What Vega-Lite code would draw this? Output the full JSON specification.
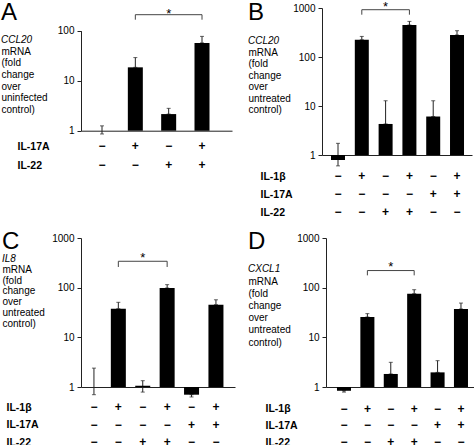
{
 "$schema": "https://vega.github.io/schema/vega-lite/v6.json",
 "padding": {"left": 1, "top": 0, "right": 0, "bottom": 0},
 "columns": 2,
 "spacing": {"row": 11, "column": 13},
 "align": "none",
 "config": {
  "font": "Liberation Sans",
  "view": {"stroke": null},
  "axis": {"grid": false, "domainColor": "#222", "tickColor": "#222", "labelColor": "black", "titleColor": "black"},
  "axisY": {"tickSize": 4, "labelFontSize": 10, "labelPadding": 3, "titleAngle": 0, "titleAlign": "left", "titleBaseline": "top", "titleFontSize": 10, "titleFontWeight": "normal"},
  "axisX": {"ticks": false, "tickSize": 0, "labelAngle": 0, "labelFontSize": 12, "labelFontWeight": "bold", "labelOverlap": false, "titleAlign": "left", "titleBaseline": "top", "titleFontSize": 10.5, "titleFontWeight": "bold", "titleAngle": 0},
  "title": {"anchor": "start", "fontSize": 24, "fontWeight": "normal", "color": "black", "subtitleFontSize": 10, "subtitleFontStyle": "italic", "subtitleColor": "black"}
 },
 "datasets": {
  "A": [
   {"t": "−|−", "v": 1, "lo": 0.86, "hi": 1.25},
   {"t": "+|−", "v": 18.5, "lo": 18.5, "hi": 29},
   {"t": "−|+", "v": 2.15, "lo": 2.15, "hi": 2.8},
   {"t": "+|+", "v": 57, "lo": 57, "hi": 77}
  ],
  "A_h": [{"t": "+|−", "t2": "+|+", "y": 209}],
  "A_v": [{"t": "+|−", "y": 209, "y2": 166}, {"t": "+|+", "y": 209, "y2": 166}],
  "A_s": [{"t": "−|+", "y": 182}],
  "B": [
   {"t": "−|−|−", "v": 0.79, "lo": 0.6, "hi": 1.73},
   {"t": "+|−|−", "v": 225, "lo": 225, "hi": 263},
   {"t": "−|−|+", "v": 4.3, "lo": 4.3, "hi": 12.8},
   {"t": "+|−|+", "v": 450, "lo": 450, "hi": 533},
   {"t": "−|+|−", "v": 6.1, "lo": 6.1, "hi": 12.8},
   {"t": "+|+|−", "v": 281, "lo": 281, "hi": 344}
  ],
  "B_h": [{"t": "+|−|−", "t2": "+|−|+", "y": 923}],
  "B_v": [{"t": "+|−|−", "y": 923, "y2": 730}, {"t": "+|−|+", "y": 923, "y2": 730}],
  "B_s": [{"t": "−|−|+", "y": 881}],
  "C": [
   {"t": "−|−|−", "v": 1, "lo": 0.7, "hi": 2.4},
   {"t": "+|−|−", "v": 37.8, "lo": 37.8, "hi": 50.7},
   {"t": "−|−|+", "v": 1.06, "lo": 0.79, "hi": 1.34},
   {"t": "+|−|+", "v": 98.5, "lo": 98.5, "hi": 115},
   {"t": "−|+|−", "v": 0.7, "lo": 0.63, "hi": 0.7},
   {"t": "+|+|−", "v": 45.5, "lo": 45.5, "hi": 57}
  ],
  "C_h": [{"t": "+|−|−", "t2": "+|−|+", "y": 340}],
  "C_v": [{"t": "+|−|−", "y": 340, "y2": 261}, {"t": "+|−|+", "y": 340, "y2": 261}],
  "C_s": [{"t": "−|−|+", "y": 327}],
  "D": [
   {"t": "−|−|−", "v": 0.84, "lo": 0.79, "hi": 0.84},
   {"t": "+|−|−", "v": 25.7, "lo": 25.7, "hi": 30},
   {"t": "−|−|+", "v": 1.83, "lo": 1.83, "hi": 3.14},
   {"t": "+|−|+", "v": 75.7, "lo": 75.7, "hi": 91},
   {"t": "−|+|−", "v": 1.97, "lo": 1.97, "hi": 3.39},
   {"t": "+|+|−", "v": 37.2, "lo": 37.2, "hi": 49}
  ],
  "D_h": [{"t": "+|−|−", "t2": "+|−|+", "y": 221}],
  "D_v": [{"t": "+|−|−", "y": 221, "y2": 177}, {"t": "+|−|+", "y": 221, "y2": 177}],
  "D_s": [{"t": "−|−|+", "y": 216}]
 },
 "concat": [
  {
   "width": 151, "height": 122.7,
   "title": {"text": "A", "subtitle": "CCL20", "subtitlePadding": 9.9, "offset": -36.9},
   "layer": [
    {"data": {"name": "A"}, "mark": {"type": "rule", "color": "#222"},
     "encoding": {"x": {"field": "t", "type": "nominal", "scale": {"type": "band", "domain": ["−|−", "+|−", "−|+", "+|+"], "paddingInner": 0.55, "paddingOuter": 0.54, "align": 0.375}},
      "y": {"field": "lo", "type": "quantitative", "scale": {"type": "log", "domain": [1, 100], "range": [122.7, 22.7], "nice": false}}, "y2": {"field": "hi"}}},
    {"data": {"name": "A"}, "mark": {"type": "tick", "color": "#222", "size": 4, "thickness": 1},
     "encoding": {"x": {"field": "t", "type": "nominal", "scale": {"type": "band", "domain": ["−|−", "+|−", "−|+", "+|+"], "paddingInner": 0.55, "paddingOuter": 0.54, "align": 0.375}},
      "y": {"field": "hi", "type": "quantitative", "scale": {"type": "log", "domain": [1, 100], "range": [122.7, 22.7], "nice": false}}}},
    {"data": {"name": "A"}, "mark": {"type": "tick", "color": "#222", "size": 4, "thickness": 1},
     "encoding": {"x": {"field": "t", "type": "nominal", "scale": {"type": "band", "domain": ["−|−", "+|−", "−|+", "+|+"], "paddingInner": 0.55, "paddingOuter": 0.54, "align": 0.375}},
      "y": {"field": "lo", "type": "quantitative", "scale": {"type": "log", "domain": [1, 100], "range": [122.7, 22.7], "nice": false}}}},
    {"data": {"name": "A"}, "mark": {"type": "bar", "color": "black"},
     "encoding": {"x": {"field": "t", "type": "nominal", "scale": {"type": "band", "domain": ["−|−", "+|−", "−|+", "+|+"], "paddingInner": 0.55, "paddingOuter": 0.54, "align": 0.375},
       "axis": {"title": ["IL-17A", "IL-22"], "titleX": -64, "titleY": 10.7, "titleLineHeight": 19, "labelPadding": 10, "labelLineHeight": 19, "labelExpr": "split(datum.value, '|')"}},
      "y": {"field": "v", "type": "quantitative", "scale": {"type": "log", "domain": [1, 100], "range": [122.7, 22.7], "nice": false},
       "axis": {"values": [1, 10, 100], "format": "d", "title": ["mRNA", "(fold", "change", "over", "uninfected", "control)"], "titleX": -80, "titleY": 38.3, "titleLineHeight": 11.67}},
      "y2": {"datum": 1}}},
    {"data": {"name": "A_h"}, "mark": {"type": "rule", "color": "#444"},
     "encoding": {"x": {"field": "t", "type": "nominal", "scale": {"type": "band", "domain": ["−|−", "+|−", "−|+", "+|+"], "paddingInner": 0.55, "paddingOuter": 0.54, "align": 0.375}}, "x2": {"field": "t2"},
      "y": {"field": "y", "type": "quantitative", "scale": {"type": "log", "domain": [1, 100], "range": [122.7, 22.7], "nice": false}}}},
    {"data": {"name": "A_v"}, "mark": {"type": "rule", "color": "#444"},
     "encoding": {"x": {"field": "t", "type": "nominal", "scale": {"type": "band", "domain": ["−|−", "+|−", "−|+", "+|+"], "paddingInner": 0.55, "paddingOuter": 0.54, "align": 0.375}},
      "y": {"field": "y", "type": "quantitative", "scale": {"type": "log", "domain": [1, 100], "range": [122.7, 22.7], "nice": false}}, "y2": {"field": "y2"}}},
    {"data": {"name": "A_s"}, "mark": {"type": "text", "text": "*", "fontSize": 13, "baseline": "alphabetic", "color": "black"},
     "encoding": {"x": {"field": "t", "type": "nominal", "scale": {"type": "band", "domain": ["−|−", "+|−", "−|+", "+|+"], "paddingInner": 0.55, "paddingOuter": 0.54, "align": 0.375}},
      "y": {"field": "y", "type": "quantitative", "scale": {"type": "log", "domain": [1, 100], "range": [122.7, 22.7], "nice": false}}}}
   ]
  },
  {
   "width": 150, "height": 147,
   "title": {"text": "B", "subtitle": "CCL20", "subtitlePadding": 10.9, "offset": -44.9},
   "layer": [
    {"data": {"name": "B"}, "mark": {"type": "rule", "color": "#222"},
     "encoding": {"x": {"field": "t", "type": "nominal", "scale": {"type": "band", "domain": ["−|−|−", "+|−|−", "−|−|+", "+|−|+", "−|+|−", "+|+|−"], "paddingInner": 0.412, "paddingOuter": 0.357, "align": 0.53}},
      "y": {"field": "lo", "type": "quantitative", "scale": {"type": "log", "domain": [1, 1000], "nice": false}}, "y2": {"field": "hi"}}},
    {"data": {"name": "B"}, "mark": {"type": "tick", "color": "#222", "size": 4, "thickness": 1},
     "encoding": {"x": {"field": "t", "type": "nominal", "scale": {"type": "band", "domain": ["−|−|−", "+|−|−", "−|−|+", "+|−|+", "−|+|−", "+|+|−"], "paddingInner": 0.412, "paddingOuter": 0.357, "align": 0.53}},
      "y": {"field": "hi", "type": "quantitative", "scale": {"type": "log", "domain": [1, 1000], "nice": false}}}},
    {"data": {"name": "B"}, "mark": {"type": "tick", "color": "#222", "size": 4, "thickness": 1},
     "encoding": {"x": {"field": "t", "type": "nominal", "scale": {"type": "band", "domain": ["−|−|−", "+|−|−", "−|−|+", "+|−|+", "−|+|−", "+|+|−"], "paddingInner": 0.412, "paddingOuter": 0.357, "align": 0.53}},
      "y": {"field": "lo", "type": "quantitative", "scale": {"type": "log", "domain": [1, 1000], "nice": false}}}},
    {"data": {"name": "B"}, "mark": {"type": "bar", "color": "black"},
     "encoding": {"x": {"field": "t", "type": "nominal", "scale": {"type": "band", "domain": ["−|−|−", "+|−|−", "−|−|+", "+|−|+", "−|+|−", "+|+|−"], "paddingInner": 0.412, "paddingOuter": 0.357, "align": 0.53},
       "axis": {"title": ["IL-1β", "IL-17A", "IL-22"], "titleX": -62, "titleY": 16.5, "titleLineHeight": 18, "labelPadding": 15.8, "labelLineHeight": 18, "labelExpr": "split(datum.value, '|')"}},
      "y": {"field": "v", "type": "quantitative", "scale": {"type": "log", "domain": [1, 1000], "nice": false},
       "axis": {"values": [1, 10, 100, 1000], "format": "d", "title": ["mRNA", "(fold", "change", "over", "untreated", "control)"], "titleX": -74, "titleY": 39.1, "titleLineHeight": 11.5}},
      "y2": {"datum": 1}}},
    {"data": {"name": "B_h"}, "mark": {"type": "rule", "color": "#444"},
     "encoding": {"x": {"field": "t", "type": "nominal", "scale": {"type": "band", "domain": ["−|−|−", "+|−|−", "−|−|+", "+|−|+", "−|+|−", "+|+|−"], "paddingInner": 0.412, "paddingOuter": 0.357, "align": 0.53}}, "x2": {"field": "t2"},
      "y": {"field": "y", "type": "quantitative", "scale": {"type": "log", "domain": [1, 1000], "nice": false}}}},
    {"data": {"name": "B_v"}, "mark": {"type": "rule", "color": "#444"},
     "encoding": {"x": {"field": "t", "type": "nominal", "scale": {"type": "band", "domain": ["−|−|−", "+|−|−", "−|−|+", "+|−|+", "−|+|−", "+|+|−"], "paddingInner": 0.412, "paddingOuter": 0.357, "align": 0.53}},
      "y": {"field": "y", "type": "quantitative", "scale": {"type": "log", "domain": [1, 1000], "nice": false}}, "y2": {"field": "y2"}}},
    {"data": {"name": "B_s"}, "mark": {"type": "text", "text": "*", "fontSize": 13, "baseline": "alphabetic", "color": "black"},
     "encoding": {"x": {"field": "t", "type": "nominal", "scale": {"type": "band", "domain": ["−|−|−", "+|−|−", "−|−|+", "+|−|+", "−|+|−", "+|+|−"], "paddingInner": 0.412, "paddingOuter": 0.357, "align": 0.53}},
      "y": {"field": "y", "type": "quantitative", "scale": {"type": "log", "domain": [1, 1000], "nice": false}}}}
   ]
  },
  {
   "width": 154, "height": 149,
   "title": {"text": "C", "subtitle": "IL8", "subtitlePadding": 0, "offset": -30.8},
   "layer": [
    {"data": {"name": "C"}, "mark": {"type": "rule", "color": "#222"},
     "encoding": {"x": {"field": "t", "type": "nominal", "scale": {"type": "band", "domain": ["−|−|−", "+|−|−", "−|−|+", "+|−|+", "−|+|−", "+|+|−"], "paddingInner": 0.385, "paddingOuter": 0.348, "align": 0.32}},
      "y": {"field": "lo", "type": "quantitative", "scale": {"type": "log", "domain": [1, 1000], "nice": false}}, "y2": {"field": "hi"}}},
    {"data": {"name": "C"}, "mark": {"type": "tick", "color": "#222", "size": 4, "thickness": 1},
     "encoding": {"x": {"field": "t", "type": "nominal", "scale": {"type": "band", "domain": ["−|−|−", "+|−|−", "−|−|+", "+|−|+", "−|+|−", "+|+|−"], "paddingInner": 0.385, "paddingOuter": 0.348, "align": 0.32}},
      "y": {"field": "hi", "type": "quantitative", "scale": {"type": "log", "domain": [1, 1000], "nice": false}}}},
    {"data": {"name": "C"}, "mark": {"type": "tick", "color": "#222", "size": 4, "thickness": 1},
     "encoding": {"x": {"field": "t", "type": "nominal", "scale": {"type": "band", "domain": ["−|−|−", "+|−|−", "−|−|+", "+|−|+", "−|+|−", "+|+|−"], "paddingInner": 0.385, "paddingOuter": 0.348, "align": 0.32}},
      "y": {"field": "lo", "type": "quantitative", "scale": {"type": "log", "domain": [1, 1000], "nice": false}}}},
    {"data": {"name": "C"}, "mark": {"type": "bar", "color": "black"},
     "encoding": {"x": {"field": "t", "type": "nominal", "scale": {"type": "band", "domain": ["−|−|−", "+|−|−", "−|−|+", "+|−|+", "−|+|−", "+|+|−"], "paddingInner": 0.385, "paddingOuter": 0.348, "align": 0.32},
       "axis": {"title": ["IL-1β", "IL-17A", "IL-22"], "titleX": -75, "titleY": 15.2, "titleLineHeight": 17.5, "labelPadding": 14.5, "labelLineHeight": 17.5, "labelExpr": "split(datum.value, '|')"}},
      "y": {"field": "v", "type": "quantitative", "scale": {"type": "log", "domain": [1, 1000], "nice": false},
       "axis": {"values": [1, 10, 100, 1000], "format": "d", "title": ["mRNA", "(fold", "change", "over", "untreated", "control)"], "titleX": -79, "titleY": 26.4, "titleLineHeight": 10.8}},
      "y2": {"datum": 1}}},
    {"data": {"name": "C_h"}, "mark": {"type": "rule", "color": "#444"},
     "encoding": {"x": {"field": "t", "type": "nominal", "scale": {"type": "band", "domain": ["−|−|−", "+|−|−", "−|−|+", "+|−|+", "−|+|−", "+|+|−"], "paddingInner": 0.385, "paddingOuter": 0.348, "align": 0.32}}, "x2": {"field": "t2"},
      "y": {"field": "y", "type": "quantitative", "scale": {"type": "log", "domain": [1, 1000], "nice": false}}}},
    {"data": {"name": "C_v"}, "mark": {"type": "rule", "color": "#444"},
     "encoding": {"x": {"field": "t", "type": "nominal", "scale": {"type": "band", "domain": ["−|−|−", "+|−|−", "−|−|+", "+|−|+", "−|+|−", "+|+|−"], "paddingInner": 0.385, "paddingOuter": 0.348, "align": 0.32}},
      "y": {"field": "y", "type": "quantitative", "scale": {"type": "log", "domain": [1, 1000], "nice": false}}, "y2": {"field": "y2"}}},
    {"data": {"name": "C_s"}, "mark": {"type": "text", "text": "*", "fontSize": 13, "baseline": "alphabetic", "color": "black"},
     "encoding": {"x": {"field": "t", "type": "nominal", "scale": {"type": "band", "domain": ["−|−|−", "+|−|−", "−|−|+", "+|−|+", "−|+|−", "+|+|−"], "paddingInner": 0.385, "paddingOuter": 0.348, "align": 0.32}},
      "y": {"field": "y", "type": "quantitative", "scale": {"type": "log", "domain": [1, 1000], "nice": false}}}}
   ]
  },
  {
   "width": 149, "height": 149,
   "title": {"text": "D", "subtitle": "CXCL1", "subtitlePadding": 10.1, "offset": -40.9},
   "layer": [
    {"data": {"name": "D"}, "mark": {"type": "rule", "color": "#222"},
     "encoding": {"x": {"field": "t", "type": "nominal", "scale": {"type": "band", "domain": ["−|−|−", "+|−|−", "−|−|+", "+|−|+", "−|+|−", "+|+|−"], "paddingInner": 0.40, "paddingOuter": 0.384, "align": 0.61}},
      "y": {"field": "lo", "type": "quantitative", "scale": {"type": "log", "domain": [1, 1000], "nice": false}}, "y2": {"field": "hi"}}},
    {"data": {"name": "D"}, "mark": {"type": "tick", "color": "#222", "size": 4, "thickness": 1},
     "encoding": {"x": {"field": "t", "type": "nominal", "scale": {"type": "band", "domain": ["−|−|−", "+|−|−", "−|−|+", "+|−|+", "−|+|−", "+|+|−"], "paddingInner": 0.40, "paddingOuter": 0.384, "align": 0.61}},
      "y": {"field": "hi", "type": "quantitative", "scale": {"type": "log", "domain": [1, 1000], "nice": false}}}},
    {"data": {"name": "D"}, "mark": {"type": "tick", "color": "#222", "size": 4, "thickness": 1},
     "encoding": {"x": {"field": "t", "type": "nominal", "scale": {"type": "band", "domain": ["−|−|−", "+|−|−", "−|−|+", "+|−|+", "−|+|−", "+|+|−"], "paddingInner": 0.40, "paddingOuter": 0.384, "align": 0.61}},
      "y": {"field": "lo", "type": "quantitative", "scale": {"type": "log", "domain": [1, 1000], "nice": false}}}},
    {"data": {"name": "D"}, "mark": {"type": "bar", "color": "black"},
     "encoding": {"x": {"field": "t", "type": "nominal", "scale": {"type": "band", "domain": ["−|−|−", "+|−|−", "−|−|+", "+|−|+", "−|+|−", "+|+|−"], "paddingInner": 0.40, "paddingOuter": 0.384, "align": 0.61},
       "axis": {"title": ["IL-1β", "IL-17A", "IL-22"], "titleX": -61, "titleY": 16.8, "titleLineHeight": 16.7, "labelPadding": 16.1, "labelLineHeight": 16.7, "labelExpr": "split(datum.value, '|')"}},
      "y": {"field": "v", "type": "quantitative", "scale": {"type": "log", "domain": [1, 1000], "nice": false},
       "axis": {"values": [1, 10, 100, 1000], "format": "d", "title": ["mRNA", "(fold", "change", "over", "untreated", "control)"], "titleX": -78, "titleY": 38.1, "titleLineHeight": 12.2}},
      "y2": {"datum": 1}}},
    {"data": {"name": "D_h"}, "mark": {"type": "rule", "color": "#444"},
     "encoding": {"x": {"field": "t", "type": "nominal", "scale": {"type": "band", "domain": ["−|−|−", "+|−|−", "−|−|+", "+|−|+", "−|+|−", "+|+|−"], "paddingInner": 0.40, "paddingOuter": 0.384, "align": 0.61}}, "x2": {"field": "t2"},
      "y": {"field": "y", "type": "quantitative", "scale": {"type": "log", "domain": [1, 1000], "nice": false}}}},
    {"data": {"name": "D_v"}, "mark": {"type": "rule", "color": "#444"},
     "encoding": {"x": {"field": "t", "type": "nominal", "scale": {"type": "band", "domain": ["−|−|−", "+|−|−", "−|−|+", "+|−|+", "−|+|−", "+|+|−"], "paddingInner": 0.40, "paddingOuter": 0.384, "align": 0.61}},
      "y": {"field": "y", "type": "quantitative", "scale": {"type": "log", "domain": [1, 1000], "nice": false}}, "y2": {"field": "y2"}}},
    {"data": {"name": "D_s"}, "mark": {"type": "text", "text": "*", "fontSize": 13, "baseline": "alphabetic", "color": "black"},
     "encoding": {"x": {"field": "t", "type": "nominal", "scale": {"type": "band", "domain": ["−|−|−", "+|−|−", "−|−|+", "+|−|+", "−|+|−", "+|+|−"], "paddingInner": 0.40, "paddingOuter": 0.384, "align": 0.61}},
      "y": {"field": "y", "type": "quantitative", "scale": {"type": "log", "domain": [1, 1000], "nice": false}}}}
   ]
  }
 ]
}
